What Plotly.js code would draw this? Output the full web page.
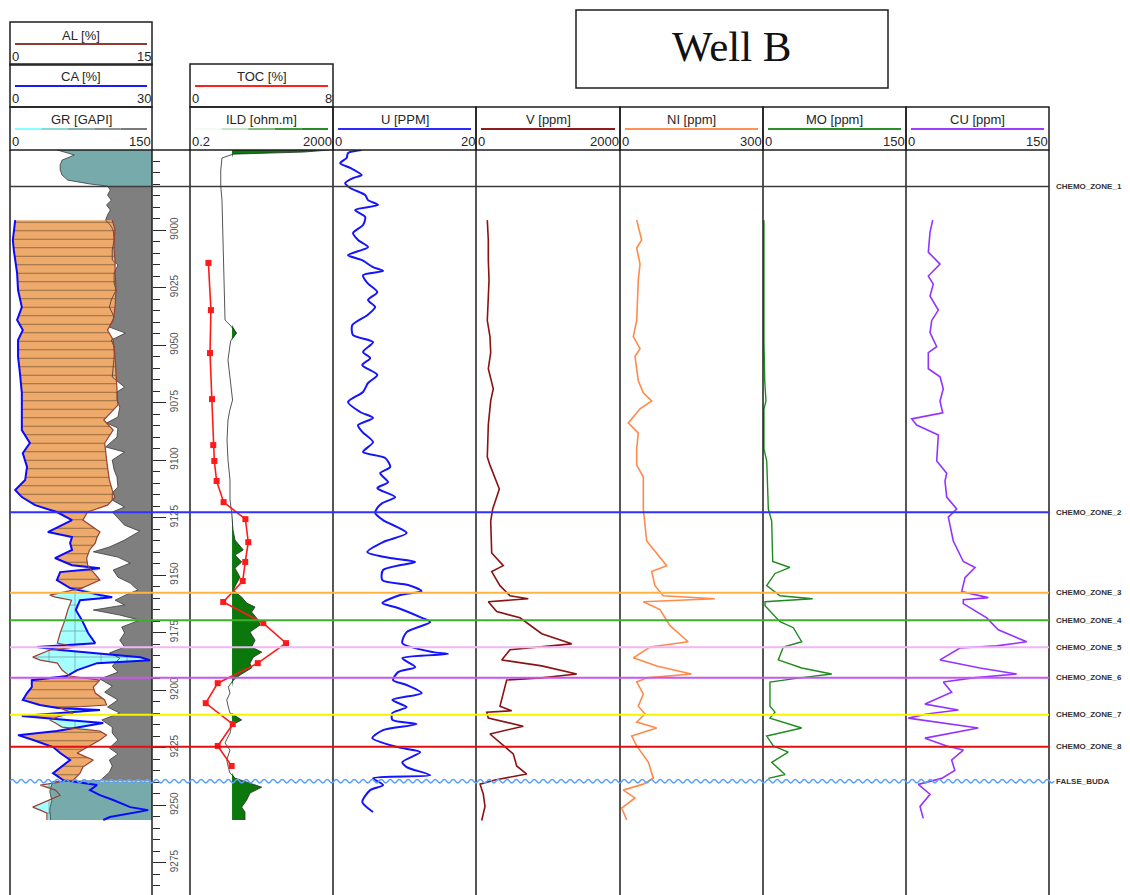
<!DOCTYPE html>
<html>
<head>
<meta charset="utf-8">
<script src="https://cdn.plot.ly/plotly-3.0.1.min.js"></script>
<style>
  html, body { margin: 0; padding: 0; background: #ffffff; }
  #log { width: 1130px; height: 895px; }
</style>
</head>
<body>
<div id="log"></div>
<script>
// ---------------- Well B : log data ----------------
// Gamma ray [GAPI]
const GR_DEPTH = [8965.2,8967.4,8969.6,8971.7,8973.9,8976.1,8978.3,8980.0,8980.9,8982.6,
  8984.8,8987.0,8989.1,8991.3,8993.5,8995.7,8997.8,9000.0,9004.3,9008.7,
  9013.0,9015.2,9018.7,9023.0,9026.1,9030.4,9033.5,9037.8,9042.2,9044.8,
  9047.8,9050.9,9055.2,9059.6,9063.9,9068.3,9070.4,9073.9,9077.0,9081.3,
  9083.9,9086.1,9090.0,9094.3,9096.5,9100.0,9104.3,9107.4,9111.7,9114.3,
  9117.4,9120.4,9122.6,9125.2,9128.3,9130.9,9134.8,9137.8,9139.9,9142.2,
  9144.8,9147.8,9150.9,9153.5,9156.5,9158.3,9160.9,9163.0,9165.2,9167.4,
  9169.6,9172.6,9175.2,9178.3,9181.3,9183.9,9186.1,9189.6,9192.2,9195.2,
  9198.3,9200.9,9204.3,9207.4,9210.0,9213.0,9216.1,9218.7,9221.7,9225.2,
  9227.8,9230.4,9233.0,9235.7,9239.4,9239.8,9244.0,9248.0,9252.0,9256.5];
const GR = [50,68,55,53,53,55,61,85,103,106,
  103,107,102,106,103,101,106,109,110,108,
  108,114,110,110,112,107,105,110,105,122,
  107,110,110,109,108,121,113,113,116,114,
  102,114,113,101,121,108,110,113,114,108,
  108,121,108,114,121,137,121,105,88,114,
  127,109,114,127,135,124,111,121,88,116,
  137,118,121,116,121,105,116,108,114,95,
  108,100,114,103,116,97,108,108,114,105,
  114,105,108,105,95,45,42,44,42,43];

// Calcium and aluminium [%] (XRF, same depth stations)
const LITHO_DEPTH = [8995.7,9000.0,9004.3,9008.7,9013.0,9018.7,9026.1,9033.5,9039.1,9043.5,
  9047.8,9055.2,9062.2,9070.9,9076.1,9082.6,9087.0,9092.6,9097.0,9103.0,
  9108.7,9113.0,9116.1,9119.6,9122.6,9126.1,9131.3,9133.5,9136.1,9139.1,
  9142.6,9145.7,9147.0,9148.7,9152.2,9155.7,9158.7,9159.6,9160.9,9165.2,
  9169.6,9175.2,9179.6,9181.3,9182.6,9185.7,9187.0,9188.3,9191.3,9193.9,
  9195.7,9198.7,9201.3,9204.3,9206.5,9207.8,9208.7,9210.0,9211.3,9213.0,
  9214.3,9216.1,9217.8,9219.6,9221.7,9224.8,9227.4,9230.4,9233.5,9236.1,
  9239.1,9241.3,9243.5,9245.7,9247.8,9250.9,9252.2,9253.5,9255.2,9256.5];
const CA = [1.1,0.8,0.6,0.8,1.1,1.5,1.7,2.5,1.5,2.7,
  1.7,1.7,2.1,2.5,2.5,2.5,2.5,4.2,2.7,3.6,
  3.2,1.1,2.5,5.3,9.9,13.1,8.0,13.1,12.7,13.1,
  9.5,13.1,19.0,10.6,9.9,12.7,19.0,21.6,14.8,13.9,
  15.2,16.5,18.0,5.7,10.6,27.5,29.6,18.4,14.2,12.0,
  4.6,4.6,3.6,2.7,6.3,10.1,19.0,10.6,2.5,12.0,
  19.7,14.8,9.9,1.7,4.9,9.1,10.6,12.7,10.6,9.1,
  11.2,18.4,16.9,19.0,21.8,25.4,29.2,25.4,21.1,19.7];
const AL = [10.8,11.1,11.0,11.0,11.1,11.1,11.2,11.1,10.9,10.3,
  10.9,11.1,11.2,11.3,11.4,9.9,10.9,10.0,10.1,10.3,
  10.5,10.8,11.1,10.3,8.2,7.7,9.5,9.2,9.0,8.4,
  8.1,8.2,8.4,8.8,9.5,7.6,4.2,4.8,6.5,6.1,
  5.8,5.3,5.0,6.9,4.2,2.4,3.2,5.0,5.5,6.3,
  9.5,8.8,9.0,10.0,10.2,5.3,5.8,6.7,5.3,4.2,
  4.8,5.5,9.5,10.2,9.5,8.2,7.1,8.8,7.7,7.4,
  6.7,3.2,4.8,5.3,4.2,2.4,3.2,3.9,3.9,3.9];

// Deep induction resistivity [ohm.m]
const ILD_DEPTH = [8965.2,8966.1,8967.0,8968.7,8973.9,8980.9,8987.0,8995.7,9004.3,9013.0,
  9021.7,9030.4,9039.1,9041.3,9044.8,9047.8,9050.0,9056.5,9065.2,9073.9,
  9078.3,9082.6,9091.3,9100.0,9108.7,9117.4,9123.0,9130.4,9134.8,9139.1,
  9141.3,9144.3,9147.0,9150.9,9153.5,9156.5,9159.6,9162.2,9163.9,9166.1,
  9169.6,9171.7,9174.8,9178.3,9181.3,9183.5,9185.7,9188.3,9190.4,9193.5,
  9195.7,9198.7,9201.3,9204.3,9207.4,9210.0,9213.0,9215.2,9218.7,9223.0,
  9226.1,9230.4,9233.5,9236.1,9238.3,9242.2,9244.8,9247.8,9250.9,9253.0,9256.5];
const ILD = [1600,300,3.2,1.57,1.45,1.45,1.57,1.62,1.67,1.72,
  1.79,1.85,1.91,2.63,4.05,2.8,2.63,2.31,2.63,3.1,
  2.6,2.31,2.17,2.31,2.63,2.63,2.93,3.19,3.63,6.19,
  3.63,5.59,3.63,5.0,4.05,3.25,5.59,7.71,13.2,10.6,
  16.3,18.2,9.53,13.2,10.6,20.3,11.8,9.53,10.6,5.0,
  3.25,2.36,2.63,2.13,2.36,2.63,5.59,2.93,2.63,1.91,
  2.63,2.13,2.36,2.63,3.63,20.3,9.53,7.71,5.59,6.9,6.9];
const ILD_CUTOFF = 3;

// Total organic carbon [%] (core samples)
const TOC_DEPTH = [9014.3,9034.8,9053.5,9073.5,9093.5,9100.4,9109.1,9118.3,9125.7,9135.7,
  9144.3,9152.6,9161.7,9170.9,9179.6,9188.3,9197.0,9205.7,9214.8,9224.3,9233.0];
const TOC = [1.03,1.17,1.12,1.23,1.30,1.36,1.49,1.88,3.10,3.26,
  3.09,2.95,1.86,4.10,5.37,3.79,1.55,0.88,2.39,1.55,2.33];

// Uranium [ppm]
const U_DEPTH = [8965.2,8966.5,8968.7,8970.9,8973.0,8976.1,8977.4,8979.6,8981.7,8984.8,
  8987.0,8989.1,8991.3,8994.3,8997.8,9001.3,9004.3,9007.4,9010.9,9013.0,
  9016.1,9017.8,9019.6,9023.0,9027.0,9030.4,9033.5,9037.0,9041.3,9045.7,
  9048.7,9053.0,9055.7,9058.7,9063.0,9066.5,9070.4,9074.8,9079.1,9081.7,
  9084.8,9087.8,9092.2,9096.5,9099.1,9103.0,9105.7,9109.6,9112.2,9116.1,
  9118.7,9120.4,9123.0,9126.1,9131.7,9135.7,9140.0,9142.6,9144.3,9147.8,
  9152.2,9154.3,9157.0,9158.7,9162.2,9164.3,9168.3,9170.4,9174.8,9179.6,
  9183.5,9184.3,9186.1,9190.0,9192.2,9195.7,9197.8,9201.3,9204.3,9207.4,
  9210.0,9213.0,9214.8,9217.4,9220.9,9224.8,9227.0,9231.3,9233.5,9237.0,
  9238.3,9241.3,9243.5,9248.7,9253.0];
const U = [4.0,2.1,1.9,1.0,2.4,4.0,2.8,1.7,2.4,4.5,
  4.9,6.3,3.1,4.5,4.2,2.8,3.5,4.9,2.1,4.0,
  5.6,7.0,4.2,4.8,6.2,4.9,5.9,4.8,2.7,2.8,
  5.6,4.2,5.2,4.1,6.2,4.9,4.2,2.1,3.8,5.6,
  3.5,4.1,5.6,4.2,7.3,8.0,6.6,7.7,6.2,8.7,
  6.9,6.3,5.9,7.0,10.3,7.0,4.8,8.0,11.5,7.0,
  6.9,10.5,12.4,9.4,6.9,9.1,12.2,13.6,10.3,9.7,
  14.0,16.1,9.7,11.5,9.1,8.4,10.3,12.4,8.3,10.3,
  8.3,8.3,11.7,7.0,5.5,9.0,12.2,9.7,10.3,13.6,
  5.6,7.0,5.2,4.1,5.6];

// Vanadium [ppm]
const V_DEPTH = [8995.7,9004.3,9013.0,9021.7,9039.3,9046.3,9053.3,9060.3,9069.0,9074.3,
  9084.7,9098.7,9102.2,9112.6,9121.3,9126.5,9140.4,9145.9,9148.5,9154.6,
  9159.0,9160.3,9161.6,9165.9,9168.6,9175.5,9179.9,9181.1,9182.5,9186.9,
  9189.5,9193.0,9194.7,9195.6,9207.0,9209.0,9209.6,9212.2,9215.7,9219.1,
  9221.7,9227.8,9233.0,9236.5,9239.1,9240.9,9245.2,9250.6,9256.7];
const V = [157,171,171,181,157,194,204,171,240,204,
  171,157,194,324,232,204,218,379,218,333,
  472,726,171,288,611,913,1329,913,472,357,
  913,1399,913,426,333,496,149,171,657,194,
  288,518,565,704,264,56,101,125,79];

// Nickel [ppm]
const NI_DEPTH = [8995.7,9004.3,9007.8,9014.8,9021.7,9039.3,9046.3,9051.6,9055.0,9065.5,
  9070.8,9074.3,9077.7,9083.9,9088.3,9095.2,9102.2,9107.4,9121.3,9135.2,
  9145.9,9148.5,9154.6,9159.0,9160.3,9161.6,9165.0,9172.0,9179.0,9181.3,
  9186.0,9189.5,9193.0,9194.7,9196.5,9201.7,9207.0,9210.4,9213.9,9216.5,
  9220.0,9224.3,9231.3,9238.3,9240.9,9243.5,9246.9,9251.3,9256.5];
const NI = [35,45.5,35,42,38.4,35,27.9,42,31.5,38.4,
  48.9,66.5,42,17.4,38.4,35,35,48.9,48.9,56,
  98,66.5,73.4,90.8,199,48.9,83.9,104.9,143,62.9,
  27.9,77,150,56,35,48.9,38.4,52.5,35,77,
  24.5,35,59.4,69.9,48.9,6.9,31.5,3.6,14.1];

// Molybdenum [ppm]
const MO_DEPTH = [8995.7,9048.0,9065.5,9074.3,9077.8,9095.2,9100.4,9112.6,9121.3,9126.5,
  9144.1,9146.7,9149.3,9154.6,9159.0,9160.3,9161.6,9163.3,9170.3,9172.9,
  9179.0,9181.3,9186.9,9190.4,9193.0,9194.7,9196.5,9207.0,9209.6,9212.2,
  9216.5,9220.0,9224.3,9227.0,9231.4,9236.7,9238.4];
const MO = [1.0,1.0,1.8,3.1,1.0,1.0,3.9,4.5,5.6,9.1,
  10.2,28.3,12.6,3.9,17.8,52.1,2.1,2.1,17.8,31.8,
  40.6,21.3,16.0,40.6,72.1,38.8,7.3,7.3,12.6,7.3,
  40.6,3.9,10.8,26.5,9.1,23.1,5.6];

// Copper [ppm]
const CU_DEPTH = [8995.7,9000.9,9009.6,9014.8,9020.0,9023.5,9028.7,9034.8,9039.3,9044.6,
  9050.7,9053.3,9060.3,9063.8,9069.0,9074.3,9079.5,9082.1,9084.8,9089.1,
  9100.4,9105.7,9109.1,9116.1,9121.3,9124.8,9135.2,9144.1,9146.7,9151.1,
  9157.2,9159.8,9160.7,9162.4,9168.6,9173.8,9179.0,9180.8,9181.7,9186.9,
  9190.4,9193.0,9194.7,9196.5,9200.9,9206.1,9208.7,9210.4,9212.2,9216.5,
  9220.9,9224.3,9226.1,9230.4,9234.9,9238.4,9241.0,9245.3,9250.6,9255.8];
const CU = [28.0,25.2,23.4,35.7,23.4,28.6,25.2,33.9,27.0,25.2,
  32.2,23.4,23.4,35.7,39.1,35.7,38.5,6.0,11.2,33.9,
  32.2,42.7,40.9,42.7,53.2,44.4,49.6,60.1,72.4,61.9,
  58.4,86.3,60.1,60.1,84.7,96.8,126.6,95.1,56.6,35.7,
  77.6,116.1,70.6,39.1,47.9,19.9,54.9,21.7,2.4,75.8,
  19.9,42.7,60.1,47.9,51.2,37.4,12.9,25.2,14.7,18.1];

// Chemostratigraphic zone tops [ft]
const ZONE_NAMES = ['CHEMO_ZONE_1','CHEMO_ZONE_2','CHEMO_ZONE_3','CHEMO_ZONE_4','CHEMO_ZONE_5',
  'CHEMO_ZONE_6','CHEMO_ZONE_7','CHEMO_ZONE_8','FALSE_BUDA'];
const ZONE_TOPS = [8981.1, 9122.7, 9157.7, 9169.6, 9181.4, 9194.7, 9210.7, 9224.6, 9239.6];
const ZONE_COLORS = ['#3c3c3c','#3030ff','#ffb440','#3fb02a','#f2b6f6','#c957ec','#f5f500','#e01010','#5aa0ff'];

// Depth track labels [ft]
const DEPTH_LABELS = [9000, 9025, 9050, 9075, 9100, 9125, 9150, 9175, 9200, 9225, 9250, 9275];

// Curve scales (left, right)
const GR_SCALE = [0, 150], AL_SCALE = [0, 15], CA_SCALE = [0, 30];
const ILD_SCALE = [0.2, 2000], TOC_SCALE = [0, 8];
const U_SCALE = [0, 20], V_SCALE = [0, 2000], NI_SCALE = [0, 300], MO_SCALE = [0, 150], CU_SCALE = [0, 150];

// ---------------- page geometry ----------------
const W = 1130, H = 895;
const X = v => v / W;
const Y = v => 1 - v / H;
const TRK = {
  lith: [10, 152], depth: [152, 190], res: [190, 333],
  u: [333, 476], v: [476, 620], ni: [620, 763], mo: [763, 906], cu: [906, 1049]
};
const DATA_TOP = 150;
const VIEW_DEPTH = [9289.1, 8965.2];          // bottom, top of the depth window
const FONT = 'Liberation Sans, Arial, sans-serif';

const shapes = [], annotations = [], traces = [];

function rect(x0, y0, x1, y1) {
  shapes.push({type: 'rect', xref: 'paper', yref: 'paper', x0: X(x0), x1: X(x1), y0: Y(y1), y1: Y(y0),
    line: {color: '#1e1e1e', width: 1.5}, fillcolor: 'rgba(0,0,0,0)', layer: 'above'});
}
function seg(x0, y0, x1, y1, color, width) {
  shapes.push({type: 'line', xref: 'paper', yref: 'paper', x0: X(x0), x1: X(x1), y0: Y(y0), y1: Y(y1),
    line: {color: color, width: width}, layer: 'above'});
}
function label(text, x, y, anchor, size, color) {
  annotations.push({text: text, xref: 'paper', yref: 'paper', x: X(x), y: Y(y), xanchor: anchor, yanchor: 'middle',
    showarrow: false, borderpad: 0, font: {family: FONT, size: size, color: color || '#262626'}});
}
function header(track, top, title, colors, scale) {
  const [x0, x1] = track;
  rect(x0, top, x1, top + 43);
  label(title, (x0 + x1) / 2, top + 13, 'center', 13);
  const w = (x1 - x0 - 10) / colors.length;
  colors.forEach((c, i) => seg(x0 + 5 + i * w, top + 22, x0 + 5 + (i + 1) * w, top + 22, c, 2));
  label(String(scale[0]), x0 + 1, top + 34, 'left', 13);
  label(String(scale[1]), x1 - 0.5, top + 34, 'right', 13);
}

// headers
header(TRK.lith, 22, 'AL [%]', ['#8e3a36'], AL_SCALE);
header(TRK.lith, 64, 'CA [%]', ['#1a1aff'], CA_SCALE);
header(TRK.lith, 107, 'GR [GAPI]', ['#86ffff', '#8ad8d8', '#8cb2b2', '#8a9393', '#7a7a7a'], GR_SCALE);
header(TRK.res, 64, 'TOC [%]', ['#ff2020'], TOC_SCALE);
header(TRK.res, 107, 'ILD [ohm.m]', ['#f4faf4', '#c8e3c8', '#7fbf7f', '#3e9a3e', '#2a8a2a'], ILD_SCALE);
header(TRK.u, 107, 'U [PPM]', ['#2a2aff'], U_SCALE);
header(TRK.v, 107, 'V [ppm]', ['#8e1c1c'], V_SCALE);
header(TRK.ni, 107, 'NI [ppm]', ['#ff9157'], NI_SCALE);
header(TRK.mo, 107, 'MO [ppm]', ['#2a8f2a'], MO_SCALE);
header(TRK.cu, 107, 'CU [ppm]', ['#9b3dff'], CU_SCALE);

// track frames
[10, 152, 190, 333, 476, 620, 763, 906, 1049].forEach(x => seg(x, DATA_TOP, x, H + 2, '#1e1e1e', 1.5));
seg(TRK.depth[0], DATA_TOP, TRK.depth[1], DATA_TOP, '#1e1e1e', 1.5);

// title box
rect(576, 10, 888, 88);
annotations.push({text: 'Well B', xref: 'paper', yref: 'paper', x: X(732), y: Y(46), xanchor: 'center', yanchor: 'middle',
  showarrow: false, font: {family: 'Liberation Serif, Times New Roman, serif', size: 43, color: '#111'}});

// zone tops
ZONE_TOPS.forEach((d, i) => {
  const color = ZONE_COLORS[i];
  if (ZONE_NAMES[i] === 'FALSE_BUDA') {
    // wavy unconformity marker
    const amp = 0.75, half = 4.5;
    let x = TRK.lith[0], up = true, p = `M${X(x)},${d}`;
    while (x < TRK.cu[1] + 4) {
      const xn = x + half;
      p += ` Q${X((x + xn) / 2)},${d + (up ? -2 * amp : 2 * amp)} ${X(xn)},${d}`;
      x = xn; up = !up;
    }
    shapes.push({type: 'path', xref: 'paper', yref: 'y', path: p, line: {color: color, width: 1.6}, layer: 'above'});
  } else {
    shapes.push({type: 'line', xref: 'paper', yref: 'y', x0: X(TRK.lith[0]), x1: X(TRK.cu[1]), y0: d, y1: d,
      line: {color: color, width: i === 0 ? 1.5 : 2}, layer: 'above'});
  }
  annotations.push({text: '<b>' + ZONE_NAMES[i] + '</b>', xref: 'paper', yref: 'y', x: X(1054), y: d,
    xanchor: 'left', yanchor: 'middle', showarrow: false, font: {family: FONT, size: 8, color: '#333'}});
});

// ---------------- traces ----------------
function curve(xs, ys, xaxis, color, width, extra) {
  return Object.assign({x: xs, y: ys, xaxis: xaxis, yaxis: 'y', type: 'scatter', mode: 'lines',
    line: {color: color, width: width}, hoverinfo: 'skip', showlegend: false}, extra || {});
}
function edge(xs, ys, xaxis) {
  return curve(xs, ys, xaxis, 'rgba(0,0,0,0)', 0);
}

// GR shading: grey inside the chemostratigraphic interval, teal outside it
const idx = GR_DEPTH.map((d, i) => i);
const zTop = ZONE_TOPS[0], zBase = ZONE_TOPS[ZONE_TOPS.length - 1];
const iAbove = idx.filter(i => GR_DEPTH[i] <= zTop);
const iInside = idx.filter(i => i >= iAbove[iAbove.length - 1] && GR_DEPTH[i] < zBase);
const iBelow = idx.filter(i => GR_DEPTH[i] > zBase);
function grShade(ids, color, xaxis) {
  const d = ids.map(i => GR_DEPTH[i]);
  return [
    edge(d.map(() => GR_SCALE[1]), d, xaxis),
    curve(ids.map(i => GR[i]), d, xaxis, 'rgba(0,0,0,0)', 0, {fill: 'tonextx', fillcolor: color})
  ];
}
traces.push(...grShade(iInside, '#7f7f7f', 'x'));

// lithology between CA and AL (CA brought onto the AL scale)
const caOnAl = CA.map(v => v * AL_SCALE[1] / CA_SCALE[1]);
const shaleEdge = AL.map((a, i) => Math.max(a, caOnAl[i]));
const limeEdge = caOnAl.map((c, i) => Math.max(c, AL[i]));
traces.push(edge(caOnAl, LITHO_DEPTH, 'x2'));
traces.push(curve(shaleEdge, LITHO_DEPTH, 'x2', 'rgba(0,0,0,0)', 0, {
  fill: 'tonextx', fillcolor: '#eeaa6a',
  fillpattern: {shape: '-', size: 8.5, solidity: 0.12, fgcolor: '#3a2716', fgopacity: 0.5, bgcolor: '#eeaa6a', fillmode: 'replace'}
}));
traces.push(edge(AL, LITHO_DEPTH, 'x2'));
traces.push(curve(limeEdge, LITHO_DEPTH, 'x2', 'rgba(0,0,0,0)', 0, {
  fill: 'tonextx', fillcolor: '#a4ffff',
  fillpattern: {shape: '+', size: 26, solidity: 0.05, fgcolor: '#3a4a4a', fgopacity: 0.6, bgcolor: '#a4ffff', fillmode: 'replace'}
}));

traces.push(...grShade(iAbove, '#77abab', 'x3'));
traces.push(...grShade(iBelow, '#77abab', 'x3'));
traces.push(curve(GR, GR_DEPTH, 'x3', '#3a3a3a', 0.8));
traces.push(curve(CA, LITHO_DEPTH, 'x4', '#0a0aff', 2));
traces.push(curve(AL, LITHO_DEPTH, 'x5', '#9a4036', 1.2));

// resistivity with resistive shading, TOC samples on top
traces.push(edge(ILD_DEPTH.map(() => ILD_CUTOFF), ILD_DEPTH, 'x6'));
traces.push(curve(ILD.map(v => Math.max(v, ILD_CUTOFF)), ILD_DEPTH, 'x6', 'rgba(0,0,0,0)', 0,
  {fill: 'tonextx', fillcolor: '#0b780b'}));
traces.push(curve(ILD, ILD_DEPTH, 'x6', '#2a2a2a', 0.8));
traces.push(curve(TOC, TOC_DEPTH, 'x7', '#ff1a1a', 1.6,
  {mode: 'lines+markers', marker: {symbol: 'square', size: 6, color: '#ff1a1a'}, cliponaxis: false}));

// elemental curves
traces.push(curve(U, U_DEPTH, 'x8', '#1414ff', 2, {line: {color: '#1414ff', width: 2, shape: 'spline', smoothing: 0.7}}));
traces.push(curve(V, V_DEPTH, 'x9', '#8a1212', 1.6));
traces.push(curve(NI, NI_DEPTH, 'x10', '#ff8a4a', 1.6));
traces.push(curve(MO, MO_DEPTH, 'x11', '#1f8a1f', 1.4));
traces.push(curve(CU, CU_DEPTH, 'x12', '#9433ff', 1.6));

// ---------------- axes ----------------
const hidden = {showgrid: false, zeroline: false, showline: false, showticklabels: false, ticks: '', anchor: 'y', fixedrange: true};
const dom = t => [X(t[0]), X(t[1])];
const layout = {
  width: W, height: H,
  margin: {l: 0, r: 0, t: 0, b: 0, pad: 0},
  paper_bgcolor: '#ffffff', plot_bgcolor: 'rgba(0,0,0,0)',
  showlegend: false, hovermode: false,
  shapes: shapes, annotations: annotations,
  xaxis:   Object.assign({}, hidden, {domain: dom(TRK.lith), range: GR_SCALE}),
  xaxis2:  Object.assign({}, hidden, {overlaying: 'x', range: AL_SCALE}),
  xaxis3:  Object.assign({}, hidden, {overlaying: 'x', range: GR_SCALE}),
  xaxis4:  Object.assign({}, hidden, {overlaying: 'x', range: CA_SCALE}),
  xaxis5:  Object.assign({}, hidden, {overlaying: 'x', range: AL_SCALE}),
  xaxis6:  Object.assign({}, hidden, {domain: dom(TRK.res), type: 'log', range: ILD_SCALE.map(Math.log10)}),
  xaxis7:  Object.assign({}, hidden, {overlaying: 'x6', range: TOC_SCALE}),
  xaxis8:  Object.assign({}, hidden, {domain: dom(TRK.u), range: U_SCALE}),
  xaxis9:  Object.assign({}, hidden, {domain: dom(TRK.v), range: V_SCALE}),
  xaxis10: Object.assign({}, hidden, {domain: dom(TRK.ni), range: NI_SCALE}),
  xaxis11: Object.assign({}, hidden, {domain: dom(TRK.mo), range: MO_SCALE}),
  xaxis12: Object.assign({}, hidden, {domain: dom(TRK.cu), range: CU_SCALE}),
  yaxis: {
    domain: [0, Y(DATA_TOP)], range: VIEW_DEPTH, anchor: 'free', position: X(TRK.depth[0]), side: 'right',
    showgrid: false, zeroline: false, showline: false, fixedrange: true,
    tickmode: 'array', tickvals: DEPTH_LABELS, ticktext: DEPTH_LABELS.map(String),
    ticks: 'outside', ticklen: 13, tickwidth: 1, tickcolor: '#2a2a2a', tickangle: -90,
    tickfont: {family: FONT, size: 10, color: '#555'},
    minor: {tickmode: 'linear', tick0: 0, dtick: 5, ticks: 'outside', ticklen: 7, tickwidth: 1, tickcolor: '#2a2a2a', showgrid: false}
  },
  yaxis2: {
    overlaying: 'y', range: VIEW_DEPTH, anchor: 'free', position: X(TRK.depth[1]), side: 'left',
    showgrid: false, zeroline: false, showline: false, fixedrange: true, showticklabels: false,
    tickmode: 'array', tickvals: DEPTH_LABELS,
    ticks: 'outside', ticklen: 9, tickwidth: 1, tickcolor: '#2a2a2a',
    minor: {tickmode: 'linear', tick0: 0, dtick: 5, ticks: 'outside', ticklen: 6, tickwidth: 1, tickcolor: '#2a2a2a', showgrid: false}
  }
};

Plotly.newPlot('log', traces, layout, {staticPlot: true, displayModeBar: false});
</script>
</body>
</html>
